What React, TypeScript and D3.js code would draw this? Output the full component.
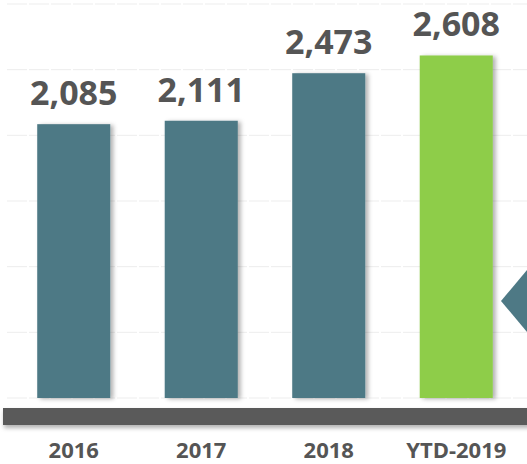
import { useEffect, useRef } from 'react';
import * as d3 from 'd3';

// chart values
const categories = ['2016', '2017', '2018', 'YTD-2019'];
const values = [2085, 2111, 2473, 2608];
const barColors = ['#4e7985', '#4e7985', '#4e7985', '#8ecd4a'];
const gridTicks = [0, 500, 1000, 1500, 2000, 2500, 3000];

const W = 527;
const H = 464;

const App = () => {
  const ref = useRef<SVGSVGElement>(null);

  useEffect(() => {
    const svg = d3.select(ref.current);
    svg.selectAll('*').remove();

    const baseY = 398;
    const x = d3.scaleBand<string>()
      .domain(categories)
      .range([10, 520])
      .paddingInner(0.427)
      .paddingOuter(0.2135);
    const y = d3.scaleLinear().domain([0, 3000]).range([baseY, 4]);

    // soft shadows
    const defs = svg.append('defs');
    const f = defs.append('filter').attr('id', 'barShadow')
      .attr('x', '-20%').attr('y', '-10%').attr('width', '140%').attr('height', '130%');
    f.append('feDropShadow')
      .attr('dx', 3).attr('dy', 1).attr('stdDeviation', 2)
      .attr('flood-color', '#000').attr('flood-opacity', 0.3);
    const f2 = defs.append('filter').attr('id', 'axisShadow')
      .attr('x', '-5%').attr('y', '-50%').attr('width', '110%').attr('height', '250%');
    f2.append('feDropShadow')
      .attr('dx', 1).attr('dy', 3).attr('stdDeviation', 2)
      .attr('flood-color', '#000').attr('flood-opacity', 0.3);

    // faint gridlines
    svg.append('g')
      .selectAll('line')
      .data(gridTicks)
      .enter()
      .append('line')
      .attr('x1', 7)
      .attr('x2', W)
      .attr('y1', (d) => y(d))
      .attr('y2', (d) => y(d))
      .attr('stroke', '#ededed')
      .attr('stroke-width', 1)
      .attr('stroke-dasharray', '20 2');

    // bars
    svg.append('g')
      .selectAll('rect')
      .data(values)
      .enter()
      .append('rect')
      .attr('x', (_, i) => x(categories[i]) as number)
      .attr('y', (d) => y(d))
      .attr('width', x.bandwidth())
      .attr('height', (d) => baseY - y(d))
      .attr('fill', (_, i) => barColors[i])
      .attr('filter', 'url(#barShadow)');

    // value labels
    svg.append('g')
      .selectAll('text')
      .data(values)
      .enter()
      .append('text')
      .attr('x', (_, i) => (x(categories[i]) as number) + x.bandwidth() / 2)
      .attr('y', (d) => y(d) - 19)
      .attr('text-anchor', 'middle')
      .attr('font-family', 'Open Sans, sans-serif')
      .attr('font-weight', 700)
      .attr('font-size', 34)
      .attr('fill', '#555555')
      .text((d) => d3.format(',')(d));

    // pointer on the right edge
    svg.append('path')
      .attr('d', `M${501},${301} L${W + 10},${258} L${W + 10},${344} Z`)
      .attr('fill', '#4e7985');

    // thick axis bar
    svg.append('rect')
      .attr('x', 3)
      .attr('y', 408)
      .attr('width', W)
      .attr('height', 17)
      .attr('fill', '#5a5a5a')
      .attr('filter', 'url(#axisShadow)');

    // category labels
    svg.append('g')
      .selectAll('text')
      .data(categories)
      .enter()
      .append('text')
      .attr('x', (d) => (x(d) as number) + x.bandwidth() / 2)
      .attr('y', 458)
      .attr('text-anchor', 'middle')
      .attr('font-family', 'Open Sans, sans-serif')
      .attr('font-weight', 700)
      .attr('font-size', 22)
      .attr('fill', '#555555')
      .text((d) => d);
  }, []);

  return (
    <svg
      ref={ref}
      width={W}
      height={H}
      style={{ position: 'fixed', top: 0, left: 0, background: '#fff', display: 'block' }}
    />
  );
};

export default App;
